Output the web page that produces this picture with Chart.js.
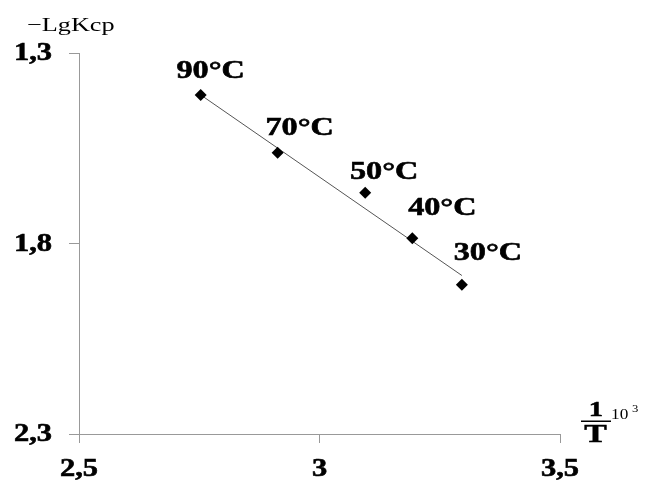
<!DOCTYPE html>
<html>
<head>
<meta charset="utf-8">
<script src="https://cdn.jsdelivr.net/npm/chart.js@4/dist/chart.umd.min.js"></script>
<style>
html,body{margin:0;padding:0;background:#fff;}
#wrap{width:652px;height:482px;position:relative;}
</style>
</head>
<body>
<div id="wrap"><canvas id="c" width="652" height="482"></canvas></div>
<script>
// Data
const pointLabels = ['90°C', '70°C', '50°C', '40°C', '30°C'];
const invT = [2.753, 2.913, 3.095, 3.193, 3.296];
const negLgK = [1.41, 1.562, 1.667, 1.786, 1.908];
const trendX = [2.753, 3.296];
const trendY = [1.41, 1.884];
const xTicks = [2.5, 3, 3.5];
const yTicks = [1.3, 1.8, 2.3];
const yTitle = '−LgKср';

// label offsets (styling)
const labelOffsets = [[10, -24], [22, -25], [19, -21], [30, -30], [26, -31]];

const fmt = v => String(Math.round(v * 10) / 10).replace('.', ',');
const serif = '"Liberation Serif", "Times New Roman", serif';

// draw text horizontally stretched by sx, optional faux-heavier stroke
function sText(ctx, t, x, y, align, sx, stroke) {
  ctx.save();
  ctx.translate(x, y);
  ctx.scale(sx, 1);
  ctx.textAlign = align;
  ctx.fillText(t, 0, 0);
  if (stroke) {
    ctx.lineWidth = stroke;
    ctx.strokeStyle = '#000';
    ctx.strokeText(t, 0, 0);
  }
  ctx.restore();
}

const textPlugin = {
  id: 'texts',
  afterDatasetsDraw(chart) {
    const ctx = chart.ctx;
    const xs = chart.scales.x, ys = chart.scales.y;
    ctx.save();
    ctx.fillStyle = '#000';
    ctx.textBaseline = 'middle';
    // point labels
    ctx.font = 'bold 26px ' + serif;
    pointLabels.forEach((t, i) => {
      const px = xs.getPixelForValue(invT[i]) + labelOffsets[i][0];
      const py = ys.getPixelForValue(negLgK[i]) + labelOffsets[i][1];
      sText(ctx, t, px, py, 'center', 1.24, 0.6);
    });
    // tick labels via the scales
    ctx.font = 'bold 25px ' + serif;
    ys.ticks.forEach(tk => {
      sText(ctx, fmt(tk.value), 52, ys.getPixelForValue(tk.value) + 1, 'right', 1.22, 0.6);
    });
    xs.ticks.forEach(tk => {
      sText(ctx, fmt(tk.value), xs.getPixelForValue(tk.value), 470, 'center', 1.22, 0.6);
    });
    // y-axis title
    ctx.font = '19px ' + serif;
    sText(ctx, yTitle, 27, 26, 'left', 1.38);
    // x-axis title: fraction 1/T and 10^3
    ctx.font = 'bold 22px ' + serif;
    sText(ctx, '1', 596, 410, 'center', 1.3, 0.5);
    ctx.font = 'bold 26px ' + serif;
    sText(ctx, 'T', 595.5, 435, 'center', 1.3, 0.5);
    ctx.fillRect(581, 420.5, 30, 1.5);
    ctx.font = '15px ' + serif;
    sText(ctx, '10', 611, 415, 'left', 1.15);
    ctx.font = '11px ' + serif;
    sText(ctx, '3', 632, 409, 'left', 1.15);
    ctx.restore();
  }
};

new Chart(document.getElementById('c'), {
  type: 'scatter',
  data: {
    datasets: [
      {
        data: invT.map((x, i) => ({x, y: negLgK[i]})),
        pointStyle: 'rectRot',
        pointRadius: 6,
        backgroundColor: '#000',
        borderColor: '#000',
        borderWidth: 0,
        order: 1
      },
      {
        type: 'line',
        data: trendX.map((x, i) => ({x, y: trendY[i]})),
        borderColor: '#555',
        borderWidth: 1,
        pointRadius: 0,
        fill: false,
        order: 2
      }
    ]
  },
  options: {
    responsive: false,
    animation: false,
    layout: {padding: {left: 0, top: 53, right: 92, bottom: 0}},
    plugins: {legend: {display: false}, tooltip: {enabled: false}},
    scales: {
      x: {
        type: 'linear',
        min: 2.5, max: 3.5,
        afterBuildTicks: s => { s.ticks = xTicks.map(v => ({value: v})); },
        afterFit: s => { s.height = 48; },
        border: {color: '#999', width: 1},
        grid: {drawOnChartArea: false, drawTicks: true, tickLength: 9, color: '#999'},
        ticks: {font: {family: serif, size: 24, weight: 'bold'}, color: 'rgba(0,0,0,0)', padding: 10, callback: v => fmt(v), maxRotation: 0}
      },
      y: {
        type: 'linear',
        reverse: true,
        min: 1.3, max: 2.3,
        afterBuildTicks: s => { s.ticks = yTicks.map(v => ({value: v})); },
        afterFit: s => { s.width = 79; },
        border: {color: '#999', width: 1},
        grid: {drawOnChartArea: false, drawTicks: true, tickLength: 10, color: '#999'},
        ticks: {font: {family: serif, size: 24, weight: 'bold'}, color: 'rgba(0,0,0,0)', padding: 16, callback: v => fmt(v)}
      }
    }
  },
  plugins: [textPlugin]
});
</script>
</body>
</html>
